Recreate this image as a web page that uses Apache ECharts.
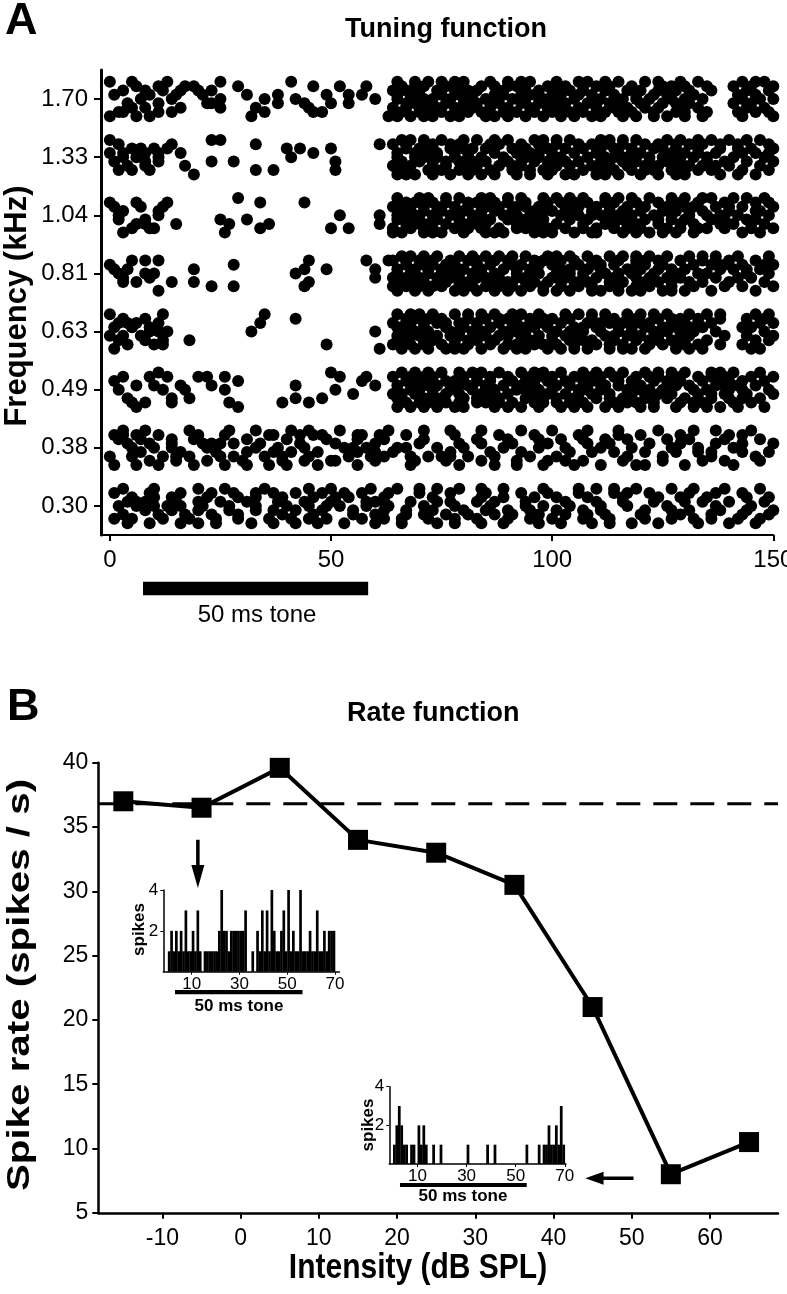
<!DOCTYPE html>
<html><head><meta charset="utf-8">
<script src="https://cdn.jsdelivr.net/npm/echarts@6/dist/echarts.min.js"></script>
<style>html,body{margin:0;padding:0;background:#fff}#c{width:787px;height:1294px}</style>
</head><body><div id="c"></div>
<script>
// ---------- Panel A: raster (spike times in ms), 9 trials per frequency, listed top trial first ----------
const freqLabels = ['0.30','0.38','0.49','0.63','0.81','1.04','1.33','1.70'];
const timeTicks = [0,50,100,150];
const raster_170 = [
 [0,5,13,25,41,65,69,72,78,80,86,93,95,101,106,108,115,121,124,129,133,143,148,75,90,112,146],
 [6,11,17,19,29,46,52,58,66,71,76,79,84,90,92,99,103,110,113,118,125,127,135,141,145,150,69,87,107,130],
 [3,8,12,16,20,23,64,67,74,81,83,88,94,97,104,107,112,117,120,128,131,136,144,149,70,78,101,124],
 [1,9,15,21,31,38,49,54,57,68,70,75,82,87,89,96,100,102,109,114,119,123,126,132,142,146,65,79,93,106],
 [7,14,25,35,42,60,65,71,73,77,85,91,98,101,105,111,116,122,127,130,134,143,147,150,68,81,94,119],
 [4,11,22,23,38,44,50,54,67,69,76,80,83,88,93,97,103,108,113,115,120,125,131,141,145,72,86,100,110,128],
 [5,8,16,25,33,45,64,70,74,78,86,90,95,99,106,110,117,121,124,129,133,144,148,67,82,102,114],
 [2,3,11,14,35,46,48,66,72,75,81,84,89,92,100,104,107,112,118,123,128,135,142,146,149,70,79,96,115,130],
 [0,6,9,32,63,68,73,77,79,85,87,94,98,102,109,111,116,119,126,130,134,143,150,65,71,90,105,123]
];
const raster_133 = [
 [0,23,25,66,68,75,80,83,90,96,98,104,111,113,119,126,129,136,140,147,71,87,101,116,133,144],
 [2,14,33,61,64,71,73,79,86,88,93,101,106,109,116,121,124,131,134,142,149,67,77,97,113,128,138],
 [5,7,10,13,40,43,50,67,70,77,82,85,91,99,103,107,114,118,123,128,133,138,145,150,73,80,94,111,125,142],
 [0,3,8,11,16,46,65,72,74,81,87,92,95,100,105,110,115,120,127,130,137,143,146,69,78,97,118,133,149],
 [3,6,11,41,69,71,78,84,89,94,97,102,108,112,117,122,125,132,135,141,148,65,74,81,100,114,128],
 [1,8,11,23,28,51,66,70,76,79,85,90,96,99,106,111,116,119,126,129,139,144,150,73,82,93,103,122,135],
 [4,8,17,64,68,73,80,83,88,93,101,104,109,113,121,124,131,134,140,147,66,76,91,117,128,137],
 [2,5,9,33,37,51,67,72,75,82,86,91,98,100,107,114,118,123,127,133,136,143,149,65,79,95,111,121,130],
 [19,65,69,77,81,87,92,95,103,105,110,115,120,128,130,138,142,146,67,73,84,99,112,124]
];
const raster_104 = [
 [29,65,70,72,79,84,86,93,98,101,107,112,115,122,127,130,136,141,148,76,90,104,118,134,144],
 [0,6,13,34,44,67,69,76,81,83,90,94,99,105,108,114,119,124,129,133,139,146,73,87,102,112,127,149],
 [1,7,12,64,71,74,78,85,88,92,97,103,110,113,117,121,126,132,137,143,150,66,81,94,106,130,140],
 [3,11,66,68,75,80,87,91,96,100,104,109,116,120,125,128,134,140,147,71,84,98,113,131,146],
 [2,11,52,61,65,69,73,77,82,84,89,95,102,106,111,115,118,123,131,135,142,149,67,79,92,109,127,138],
 [2,8,25,31,65,70,74,79,86,90,93,98,104,108,113,121,127,130,136,144,146,67,82,96,116,124,139],
 [6,8,15,27,36,61,67,72,76,83,85,92,97,101,107,112,117,119,124,129,138,141,148,69,80,95,114,132,145],
 [5,9,10,34,50,54,64,68,73,78,81,88,94,99,103,110,114,120,126,133,135,139,145,150,71,84,92,107,117,129],
 [3,26,66,71,75,80,87,89,96,100,105,109,116,122,125,128,132,143,147,64,73,85,98,110,119]
];
const raster_081 = [
 [66,68,74,79,85,88,94,99,101,108,113,116,122,126,131,137,142,149,71,82,91,104,119,134],
 [5,8,11,45,58,63,64,70,73,81,83,90,96,98,105,110,115,119,124,129,134,140,146,67,77,87,102,121,137],
 [0,28,67,71,76,78,86,91,93,100,106,109,114,121,125,132,136,143,148,150,73,83,97,111,119,139],
 [1,4,19,44,49,60,65,69,75,80,84,89,95,102,104,111,117,120,127,130,138,141,147,72,78,92,108,124,144],
 [2,8,10,42,68,72,77,82,87,92,97,101,107,112,118,123,128,133,135,144,149,65,75,84,95,104,115],
 [3,9,60,64,70,74,79,83,88,94,100,103,110,114,119,126,129,137,142,145,67,77,85,92,107,122],
 [3,6,14,19,45,66,71,76,81,86,90,96,99,105,108,116,121,124,131,134,140,148,68,79,94,102,113,127],
 [23,28,44,64,67,73,75,82,85,91,95,102,106,113,115,122,127,132,139,143,150,70,79,88,98,109,119],
 [11,65,69,78,80,87,93,98,104,109,111,118,120,125,130,136,146,72,83,90,101,115,127]
];
const raster_063 = [
 [0,12,35,65,70,73,78,84,87,93,97,103,106,112,117,120,126,131,135,146,149,68,81,91,109,123,138],
 [3,8,42,67,69,75,81,85,90,95,100,104,109,114,119,124,129,133,138,144,72,88,98,117,127,148],
 [2,4,6,11,34,64,71,74,79,83,88,92,98,102,108,113,116,122,127,130,136,147,150,67,76,96,111,120,133],
 [1,5,9,65,66,68,76,80,86,91,96,99,105,110,115,121,125,128,134,143,145,71,83,94,107,118,131],
 [9,11,13,32,60,69,72,77,82,84,89,94,101,107,111,118,123,126,132,137,148,66,79,92,104,115,129],
 [0,3,7,65,70,74,79,85,90,93,97,103,106,112,117,120,129,131,139,144,150,68,77,88,100,114,124],
 [2,8,12,18,67,71,73,78,83,87,95,100,104,109,114,119,124,127,135,146,149,65,81,93,107,122,130],
 [4,10,12,49,64,68,75,81,86,92,96,98,105,110,116,122,125,130,133,138,143,71,78,90,101,113,128],
 [1,61,66,72,76,80,84,89,94,99,102,108,113,118,121,128,134,145,147,69,78,92,105,116,131]
];
const raster_049 = [
 [11,50,66,69,75,79,84,88,93,98,102,107,113,116,121,127,130,136,141,147,72,82,96,110,124,138],
 [3,9,13,20,22,26,52,58,64,71,73,80,86,90,95,100,105,109,114,119,124,128,133,139,145,150,68,83,98,111,122,136],
 [1,29,57,67,70,76,78,83,91,94,99,103,110,115,118,123,129,134,138,143,148,73,86,96,107,126,140],
 [6,10,16,23,42,60,65,72,74,81,85,89,96,101,104,108,112,120,126,131,137,142,146,69,79,93,115,128,139],
 [2,12,17,26,51,68,70,77,82,87,92,97,100,106,111,117,122,125,132,135,140,149,73,85,94,108,119,143],
 [55,64,69,73,79,84,90,95,99,103,109,113,118,124,127,133,139,144,150,66,76,87,106,121,136],
 [4,14,18,42,48,65,66,71,75,80,86,88,94,101,105,110,116,121,126,130,136,143,147,73,83,97,113,123,140],
 [5,8,14,27,39,45,67,72,76,83,85,91,96,98,104,107,114,119,123,129,134,141,145,70,79,88,101,117,132],
 [6,29,65,68,74,78,87,93,97,102,108,112,115,120,128,132,138,142,148,71,80,90,105,123,135]
];
const raster_038 = [
 [3,8,18,27,33,41,45,52,63,71,77,84,93,100,108,115,124,132,137,145],
 [1,3,6,11,20,26,36,37,43,46,48,56,57,61,67,78,88,96,106,115,120,129,140,143],
 [2,7,14,19,31,40,49,56,62,71,83,90,97,102,107,112,117,126,131,139,147],
 [4,9,14,21,23,25,28,34,43,51,60,70,79,84,91,99,108,113,122,129,137,143,150],
 [5,10,14,22,33,38,44,53,55,58,65,67,74,80,89,97,103,111,118,127,133,141],
 [7,16,24,31,37,41,47,56,60,64,77,86,93,104,109,114,121,128,133,136,143,149],
 [0,5,12,15,18,25,28,35,39,45,54,59,62,68,72,75,77,81,87,95,101,117,125,136,146],
 [9,15,22,30,39,44,50,51,60,69,76,84,92,99,103,107,116,125,134,139,147],
 [1,6,11,19,26,31,36,40,47,56,68,79,87,92,98,105,111,119,121,130,141]
];
const raster_030 = [
 [3,10,20,26,35,45,50,59,65,70,74,79,84,89,98,106,110,114,119,127,132,139,147],
 [1,9,16,23,28,33,37,42,48,53,57,63,70,77,85,93,99,106,114,117,122,131,137,143],
 [5,10,14,22,29,33,39,46,51,54,62,73,84,89,96,101,108,116,124,129,135,144,149],
 [4,6,8,15,20,25,31,38,44,50,58,60,62,68,74,77,83,87,94,103,110,116,123,130,134,140,148],
 [2,6,10,13,16,21,27,33,40,45,49,52,58,63,71,78,86,94,98,104,111,117,126,137,145],
 [8,14,20,27,33,37,42,48,55,62,67,73,80,85,90,95,101,107,111,121,127,131,138,144,150],
 [3,11,17,23,29,39,46,55,60,67,71,76,81,87,91,97,103,108,112,120,129,136,143,149],
 [1,5,12,18,24,29,36,41,45,49,57,62,66,72,78,83,90,95,100,107,113,121,127,132,136,142,147],
 [4,9,16,20,24,32,37,42,47,53,60,66,74,78,84,89,97,102,109,113,118,124,133,140,146]
];
const toneA = [7.5, 58.4];           // ms, stimulus bar under panel A

// ---------- Panel B: rate function ----------
const intensity = [-15,-5,5,15,25,35,45,55,65];
const spikeRate = [37.0,36.5,39.6,34.0,33.0,30.5,21.0,8.0,10.5];
const spontaneousRate = 36.8;
const intensityTicks = [-10,0,10,20,30,40,50,60];
// PSTH insets (spikes per 1-ms bin, 0..69 ms)
const histLow  = [1,2,1,2,1,2,1,3,1,1,2,1,3,1,0,1,1,1,1,1,1,2,4,2,2,1,2,2,2,2,2,2,3,0,0,1,0,2,1,3,1,3,1,4,2,1,1,2,3,1,4,1,2,1,1,4,1,1,1,2,1,1,3,1,1,2,1,2,2,2];
const histHigh = [1,2,3,2,1,1,0,1,1,0,2,1,2,1,0,0,1,0,0,1,0,0,0,0,0,0,0,0,0,0,1,0,0,0,0,0,0,0,1,0,0,1,0,0,0,0,0,0,0,0,0,0,0,0,1,0,0,0,0,1,0,1,1,2,1,1,2,1,3,1];
const histTicks = [10,30,50,70];
const toneInsetLow = [3.0, 56.4];
const toneInsetHigh = [2.85, 54.5];

const FONT = '"Liberation Sans", Arial, Helvetica, sans-serif';
const trialStep = 0.074;
const rows = [raster_030, raster_038, raster_049, raster_063, raster_081, raster_104, raster_133, raster_170];
const dots = [];
rows.forEach((trials, f) => {
  trials.forEach((times, i) => {
    const o = 4 - i;
    times.forEach(t => dots.push([t, f + o * trialStep]));
  });
});

const A_X = [-2, 150], A_Y = [-0.5, 7.5];
const B_X = [-18.2, 68.7], B_Y = [5, 40];
const I1_X = [-1.9, 71.8], I2_X = [-1.5, 70.5];

function axisBase(extra) {
  return Object.assign({
    type: 'value',
    splitLine: {show: false},
    axisLine: {show: true, onZero: false, lineStyle: {color: '#000', width: 2}},
    axisTick: {show: true, lineStyle: {color: '#000', width: 2}},
    axisLabel: {color: '#000', fontFamily: FONT}
  }, extra);
}
const black = {color: '#000', opacity: 1};

// one histogram bin (1 ms wide) drawn through the inset's own axes
function histRect(params, api) {
  const x = api.value(0), c = api.value(1);
  if (!c) return {type: 'group', children: []};
  const a = api.coord([x, 0]), b = api.coord([x + 1, c]);
  return {type: 'rect', shape: {x: a[0], y: b[1], width: b[0] - a[0] + 0.3, height: a[1] - b[1]},
          style: {fill: '#000'}};
}

const chart = echarts.init(document.getElementById('c'), null, {renderer: 'canvas'});
const option = {
  animation: false,
  backgroundColor: '#fff',
  grid: [
    {left: 101, top: 70, width: 672.3, height: 465, outerBoundsMode: 'none'},
    {left: 98.3, top: 762.7, width: 679.7, height: 450.1, outerBoundsMode: 'none'},
    {left: 163.3, top: 890, width: 176, height: 81.7, outerBoundsMode: 'none'},
    {left: 389.3, top: 1086.7, width: 176.7, height: 77.3, outerBoundsMode: 'none'}
  ],
  xAxis: [
    axisBase({gridIndex: 0, min: A_X[0], max: A_X[1],
      axisLine: {onZero: false, lineStyle: {color: '#000', width: 2}},
      axisTick: {customValues: timeTicks, length: 6, lineStyle: {color: '#000', width: 2}},
      axisLabel: {customValues: timeTicks, fontSize: 24, margin: 13, color: '#000', fontFamily: FONT}}),
    axisBase({gridIndex: 1, min: B_X[0], max: B_X[1],
      axisLine: {onZero: false, lineStyle: {color: '#000', width: 2.5}},
      axisTick: {customValues: intensityTicks, length: 6, lineStyle: {color: '#000', width: 2}},
      axisLabel: {customValues: intensityTicks, fontSize: 23, margin: 14, color: '#000', fontFamily: FONT}}),
    axisBase({gridIndex: 2, min: I1_X[0], max: I1_X[1],
      axisLine: {onZero: false, lineStyle: {color: '#000', width: 1.5}},
      axisTick: {customValues: histTicks, length: 3, lineStyle: {color: '#000', width: 1}},
      axisLabel: {customValues: histTicks, fontSize: 17, margin: 4, color: '#000', fontFamily: FONT}}),
    axisBase({gridIndex: 3, min: I2_X[0], max: I2_X[1],
      axisLine: {onZero: false, lineStyle: {color: '#000', width: 1.5}},
      axisTick: {customValues: histTicks, length: 3, lineStyle: {color: '#000', width: 1}},
      axisLabel: {customValues: histTicks, fontSize: 17, margin: 4, color: '#000', fontFamily: FONT}})
  ],
  yAxis: [
    axisBase({gridIndex: 0, min: A_Y[0], max: A_Y[1],
      axisLine: {onZero: false, lineStyle: {color: '#000', width: 3}},
      axisTick: {customValues: [0,1,2,3,4,5,6,7], length: 7, lineStyle: {color: '#000', width: 2}},
      axisLabel: {customValues: [0,1,2,3,4,5,6,7], formatter: v => freqLabels[Math.round(v)],
        fontSize: 24, margin: 13, color: '#000', fontFamily: FONT}}),
    axisBase({gridIndex: 1, min: B_Y[0], max: B_Y[1], interval: 5,
      axisLine: {onZero: false, lineStyle: {color: '#000', width: 2.5}},
      axisTick: {length: 6, lineStyle: {color: '#000', width: 2}},
      axisLabel: {fontSize: 23, margin: 10, color: '#000', fontFamily: FONT}}),
    axisBase({gridIndex: 2, min: 0, max: 4,
      axisLine: {onZero: false, lineStyle: {color: '#000', width: 1.5}},
      axisTick: {customValues: [2,4], length: 3, lineStyle: {color: '#000', width: 1}},
      axisLabel: {customValues: [2,4], fontSize: 17, margin: 5, color: '#000', fontFamily: FONT}}),
    axisBase({gridIndex: 3, min: 0, max: 4,
      axisLine: {onZero: false, lineStyle: {color: '#000', width: 1.5}},
      axisTick: {customValues: [2,4], length: 3, lineStyle: {color: '#000', width: 1}},
      axisLabel: {customValues: [2,4], fontSize: 17, margin: 5, color: '#000', fontFamily: FONT}})
  ],
  series: [
    {type: 'scatter', xAxisIndex: 0, yAxisIndex: 0, data: dots, symbol: 'circle', symbolSize: 12,
     itemStyle: black, clip: false, silent: true, large: false},
    {type: 'line', xAxisIndex: 0, yAxisIndex: 0, data: [[toneA[0], -1.42], [toneA[1], -1.42]],
     symbol: 'none', lineStyle: {color: '#000', width: 13.3, cap: 'butt', opacity: 1}, clip: false, silent: true},
    {type: 'line', xAxisIndex: 1, yAxisIndex: 1, data: [[B_X[0], spontaneousRate], [B_X[1], spontaneousRate]],
     symbol: 'none', lineStyle: {color: '#000', width: 3, type: [24, 13], opacity: 1}, z: 1, silent: true},
    {type: 'line', xAxisIndex: 1, yAxisIndex: 1, data: intensity.map((x, i) => [x, spikeRate[i]]),
     symbol: 'rect', symbolSize: 20, itemStyle: black,
     lineStyle: {color: '#000', width: 4, opacity: 1}, z: 3, silent: true},
    // arrows pointing to the insets
    {type: 'line', xAxisIndex: 1, yAxisIndex: 1, data: [[-5.47, 34.0], [-5.47, 32.0]],
     symbol: 'none', lineStyle: {color: '#000', width: 3.5, cap: 'butt', opacity: 1}, silent: true},
    {type: 'scatter', xAxisIndex: 1, yAxisIndex: 1, data: [[-5.47, 31.15]], symbol: 'triangle',
     symbolSize: [13, 23], symbolRotate: 180, itemStyle: black, silent: true},
    {type: 'line', xAxisIndex: 1, yAxisIndex: 1, data: [[46.3, 7.68], [50.23, 7.68]],
     symbol: 'none', lineStyle: {color: '#000', width: 3.5, cap: 'butt', opacity: 1}, silent: true},
    {type: 'scatter', xAxisIndex: 1, yAxisIndex: 1, data: [[45.23, 7.68]], symbol: 'triangle',
     symbolSize: [13, 18.3], symbolRotate: 90, itemStyle: black, silent: true},
    // insets (PSTHs)
    {type: 'custom', xAxisIndex: 2, yAxisIndex: 2, data: histLow.map((c, i) => [i, c]),
     renderItem: histRect, silent: true},
    {type: 'line', xAxisIndex: 2, yAxisIndex: 2, data: [[toneInsetLow[0], -1.0], [toneInsetLow[1], -1.0]],
     symbol: 'none', lineStyle: {color: '#000', width: 4.3, cap: 'butt', opacity: 1}, clip: false, silent: true},
    {type: 'custom', xAxisIndex: 3, yAxisIndex: 3, data: histHigh.map((c, i) => [i, c]),
     renderItem: histRect, silent: true},
    {type: 'line', xAxisIndex: 3, yAxisIndex: 3, data: [[toneInsetHigh[0], -1.09], [toneInsetHigh[1], -1.09]],
     symbol: 'none', lineStyle: {color: '#000', width: 4, cap: 'butt', opacity: 1}, clip: false, silent: true}
  ],
  graphic: [
    {type: 'text', x: 5, y: 21.7, style: {text: 'A', font: 'bold 45px ' + FONT, fill: '#000', textAlign: 'left', textVerticalAlign: 'middle'}},
    {type: 'text', x: 345, y: 29.3, style: {text: 'Tuning function', font: 'bold 27px ' + FONT, fill: '#000', textAlign: 'left', textVerticalAlign: 'middle'}},
    {type: 'text', x: 17.5, y: 306, rotation: Math.PI / 2, style: {text: 'Frequency (kHz)', font: 'bold 31px ' + FONT, fill: '#000', textAlign: 'center', textVerticalAlign: 'middle'}},
    {type: 'text', x: 257, y: 615, style: {text: '50 ms tone', font: '24px ' + FONT, fill: '#000', textAlign: 'center', textVerticalAlign: 'middle'}},
    {type: 'text', x: 7, y: 707.5, style: {text: 'B', font: 'bold 45px ' + FONT, fill: '#000', textAlign: 'left', textVerticalAlign: 'middle'}},
    {type: 'text', x: 347, y: 714, style: {text: 'Rate function', font: 'bold 27px ' + FONT, fill: '#000', textAlign: 'left', textVerticalAlign: 'middle'}},
    {type: 'text', x: 20, y: 985, rotation: Math.PI / 2, scaleX: 1.3, style: {text: 'Spike rate (spikes / s)', font: 'bold 31px ' + FONT, fill: '#000', textAlign: 'center', textVerticalAlign: 'middle'}},
    {type: 'text', x: 418, y: 1268, scaleY: 1.15, style: {text: 'Intensity (dB SPL)', font: 'bold 30px ' + FONT, fill: '#000', textAlign: 'center', textVerticalAlign: 'middle'}},
    {type: 'text', x: 139.5, y: 929.5, rotation: Math.PI / 2, style: {text: 'spikes', font: 'bold 17px ' + FONT, fill: '#000', textAlign: 'center', textVerticalAlign: 'middle'}},
    {type: 'text', x: 239, y: 1006, style: {text: '50 ms tone', font: 'bold 17px ' + FONT, fill: '#000', textAlign: 'center', textVerticalAlign: 'middle'}},
    {type: 'text', x: 368, y: 1125, rotation: Math.PI / 2, style: {text: 'spikes', font: 'bold 17px ' + FONT, fill: '#000', textAlign: 'center', textVerticalAlign: 'middle'}},
    {type: 'text', x: 463, y: 1196, style: {text: '50 ms tone', font: 'bold 17px ' + FONT, fill: '#000', textAlign: 'center', textVerticalAlign: 'middle'}}
  ]
};
chart.setOption(option);
</script></body></html>
